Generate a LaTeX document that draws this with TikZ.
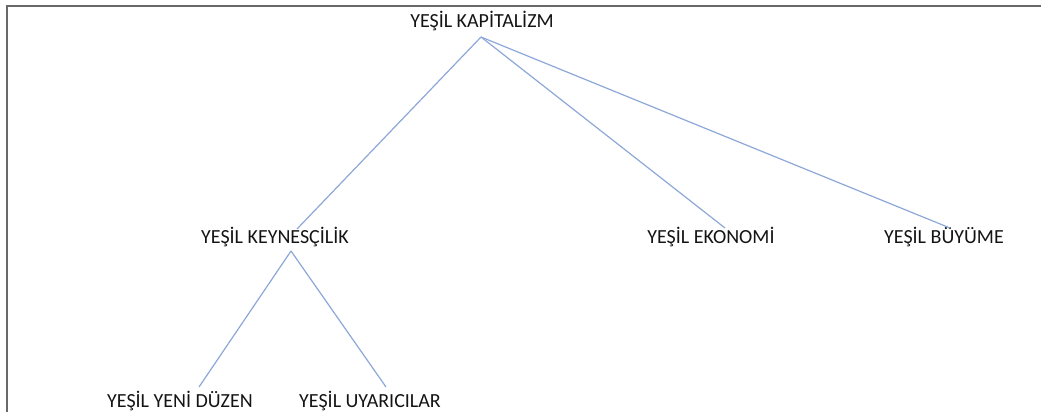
\documentclass[tikz,border=0pt]{standalone}
\usepackage{fontspec}
\setmainfont{Carlito}
\definecolor{linkblue}{RGB}{140,167,216}
\definecolor{framegray}{RGB}{105,105,105}
\begin{document}
\begin{tikzpicture}[x=1pt,y=-1pt,
  lbl/.style={anchor=base,inner sep=0pt,font=\fontsize{20}{24}\selectfont,text=black!92},
  link/.style={draw=linkblue,line width=1.2pt}]
\useasboundingbox (0,0) rectangle (1041,412);
\draw[framegray,line width=2pt] (6.5,412) -- (6.5,6.5) -- (1041,6.5);
\node[lbl] (root) at (482,28) {YEŞİL KAPİTALİZM};
\node[lbl] (key) at (275,243) {YEŞİL KEYNESÇİLİK};
\node[lbl] (eko) at (711,243) {YEŞİL EKONOMİ};
\node[lbl] (buy) at (944,243) {YEŞİL BÜYÜME};
\node[lbl] (yeni) at (180,407) {YEŞİL YENİ DÜZEN};
\node[lbl] (uya) at (370,407) {YEŞİL UYARICILAR};
\coordinate (rootb) at (481,37);
\coordinate (keyt) at (297,229);
\coordinate (ekot) at (725,228);
\coordinate (buyt) at (950,228);
\coordinate (keyb) at (291,251);
\coordinate (yenit) at (199,387);
\coordinate (uyat) at (386,387);
\draw[link] (rootb) -- (keyt);
\draw[link] (rootb) -- (ekot);
\draw[link] (rootb) -- (buyt);
\draw[link] (keyb) -- (yenit);
\draw[link] (keyb) -- (uyat);
\end{tikzpicture}
\end{document}
